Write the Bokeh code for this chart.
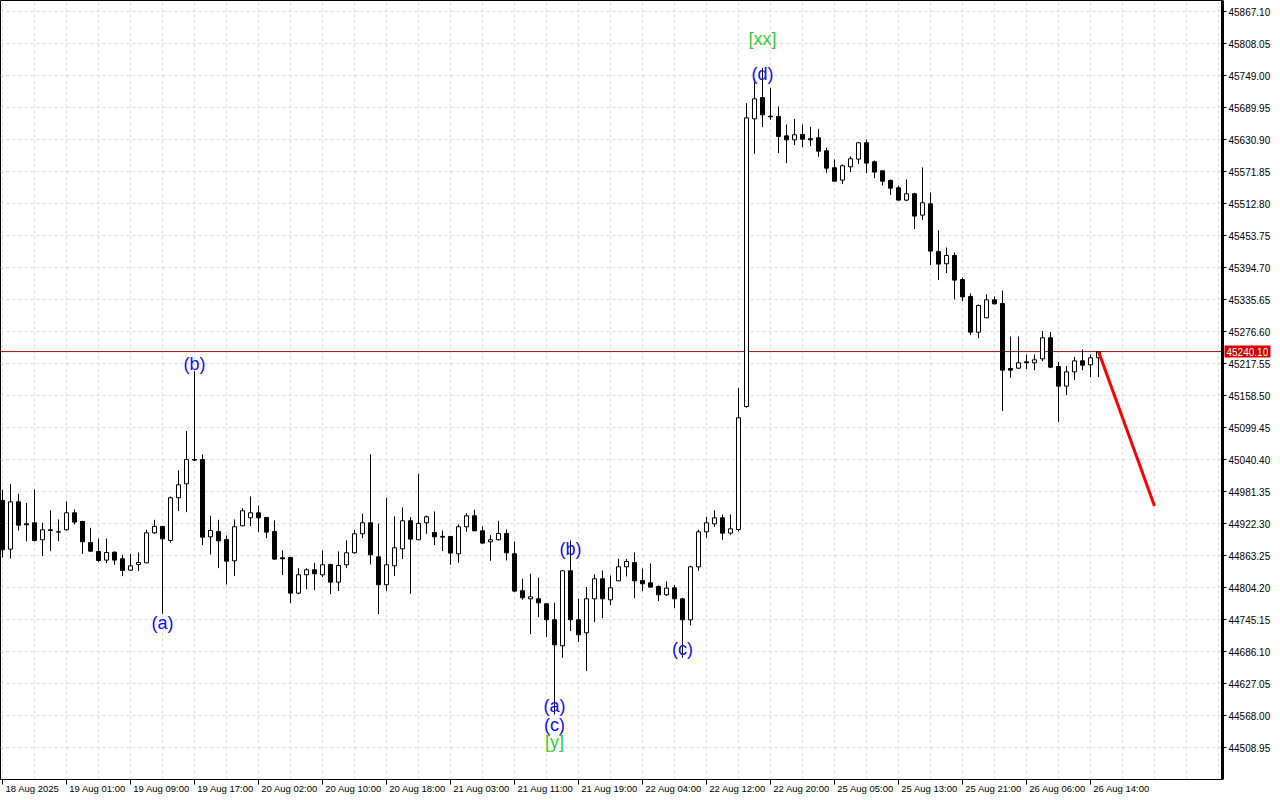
from bokeh.plotting import figure
from bokeh.models import FixedTicker, Range1d, ColumnDataSource, Span, PrintfTickFormatter
from bokeh.embed import file_html
from bokeh.resources import INLINE
from bokeh.core.properties import value

# ---------------- data (hourly candles, bar index 0..137) ----------------
opens = [44965.4, 44875.5, 44962.9, 44922.3, 44924.1, 44892.8, 44911.2, 44907.5, 44911.2, 44942.6,
         44926.6, 44887.8, 44871.2, 44855.3, 44870.0, 44857.7, 44836.8, 44847.3, 44850.3, 44905.7,
         44917.4, 44891.5, 44970.3, 44996.1, 45041.0, 45041.0, 44898.3, 44908.2, 44893.4, 44854.0,
         44918.6, 44933.4, 44942.6, 44934.0, 44908.2, 44859.6, 44860.2, 44794.4, 44828.2, 44837.4,
         44828.2, 44847.3, 44814.7, 44846.7, 44868.8, 44903.9, 44924.2, 44861.4, 44809.8, 44844.8,
         44876.2, 44927.9, 44892.8, 44924.2, 44906.3, 44899.0, 44899.0, 44867.0, 44916.8, 44937.1,
         44909.4, 44889.1, 44892.8, 44904.5, 44867.0, 44798.7, 44783.9, 44783.9, 44774.7, 44745.2,
         44697.2, 44835.6, 44745.2, 44721.2, 44783.9, 44820.8, 44782.0, 44817.1, 44842.9, 44850.9,
         44817.7, 44813.4, 44806.7, 44791.3, 44804.2, 44783.9, 44745.1, 44842.9, 44907.5, 44922.3,
         44933.4, 44905.1, 44911.8, 45138.8, 45669.6, 45709.0, 45674.5, 45673.9, 45638.2, 45630.8,
         45640.8, 45632.8, 45634.6, 45610.6, 45579.3, 45556.5, 45581.1, 45595.3, 45625.4, 45590.3,
         45573.7, 45555.9, 45542.3, 45519.6, 45531.3, 45491.9, 45512.8, 45424.9, 45402.1, 45417.5,
         45373.1, 45341.8, 45275.9, 45302.4, 45335.6, 45328.9, 45208.9, 45209.5, 45221.2, 45219.4,
         45226.7, 45265.5, 45212.6, 45176.3, 45202.7, 45223.0, 45215.7, 45228.6]
highs = [44985.0, 44996.1, 44977.7, 44961.0, 44985.6, 44924.1, 44946.9, 44930.3, 44963.5, 44948.7,
         44927.8, 44914.9, 44895.2, 44895.2, 44871.2, 44865.1, 44866.9, 44869.4, 44911.2, 44929.7,
         44918.0, 44972.7, 45020.7, 45093.3, 45204.0, 45050.2, 44937.1, 44929.7, 44900.8, 44930.3,
         44951.2, 44972.8, 44956.2, 44934.6, 44928.5, 44873.1, 44860.8, 44840.5, 44840.5, 44850.3,
         44873.1, 44848.5, 44871.3, 44891.6, 44911.3, 44940.8, 45050.3, 44922.9, 44970.3, 44935.9,
         44952.5, 44934.6, 45014.6, 44937.7, 44945.1, 44910.0, 44899.6, 44921.1, 44942.0, 44948.2,
         44917.4, 44901.4, 44927.9, 44911.9, 44889.7, 44820.8, 44830.1, 44822.7, 44775.3, 44776.5,
         44836.2, 44891.6, 44783.9, 44805.5, 44828.8, 44836.2, 44827.0, 44857.7, 44857.7, 44869.4,
         44839.9, 44849.1, 44808.5, 44815.9, 44809.7, 44785.7, 44844.8, 44911.2, 44935.2, 44946.9,
         44939.5, 44939.5, 45173.2, 45698.5, 45743.4, 45763.7, 45726.8, 45692.4, 45659.1, 45669.6,
         45659.2, 45654.9, 45651.2, 45616.2, 45594.6, 45585.4, 45600.2, 45626.0, 45631.5, 45592.8,
         45574.3, 45557.7, 45546.0, 45557.7, 45533.1, 45579.9, 45533.7, 45463.6, 45432.2, 45423.0,
         45376.8, 45347.3, 45327.0, 45345.5, 45341.8, 45352.8, 45267.9, 45267.9, 45234.7, 45234.7,
         45277.8, 45275.9, 45221.2, 45213.8, 45230.4, 45243.9, 45234.7, 45240.3]
lows = [44860.0, 44858.3, 44910.0, 44889.7, 44889.7, 44862.6, 44871.8, 44890.3, 44910.0, 44921.1,
        44866.9, 44870.6, 44851.6, 44849.7, 44846.6, 44825.7, 44835.0, 44835.0, 44849.7, 44903.8,
        44756.2, 44887.2, 44945.7, 44943.8, 45038.0, 44882.9, 44865.7, 44840.5, 44810.4, 44825.8,
        44918.0, 44918.0, 44906.9, 44895.9, 44855.9, 44827.6, 44775.9, 44792.5, 44801.8, 44799.9,
        44823.9, 44792.5, 44798.1, 44840.5, 44867.0, 44895.9, 44847.3, 44755.6, 44798.1, 44825.8,
        44857.1, 44793.2, 44892.8, 44903.9, 44883.0, 44871.9, 44846.7, 44850.4, 44907.6, 44908.8,
        44885.4, 44854.1, 44891.6, 44854.7, 44796.2, 44782.1, 44718.7, 44750.1, 44713.2, 44570.5,
        44675.1, 44724.3, 44704.0, 44650.5, 44740.9, 44748.3, 44772.2, 44817.1, 44825.1, 44785.1,
        44798.0, 44805.4, 44779.6, 44789.4, 44766.7, 44675.0, 44734.7, 44835.6, 44896.5, 44916.8,
        44892.8, 44902.0, 44908.1, 45136.3, 45605.0, 45654.2, 45667.8, 45606.2, 45587.8, 45621.0,
        45617.4, 45619.2, 45599.5, 45569.4, 45554.0, 45549.1, 45571.3, 45586.0, 45569.4, 45560.2,
        45546.6, 45528.8, 45519.0, 45517.7, 45466.1, 45482.7, 45399.6, 45372.0, 45384.9, 45336.3,
        45333.1, 45270.4, 45264.9, 45302.4, 45327.6, 45130.2, 45191.7, 45207.7, 45207.7, 45205.8,
        45222.4, 45209.5, 45109.9, 45159.7, 45187.4, 45205.8, 45192.9, 45192.9]
closes = [44874.3, 44962.9, 44919.8, 44920.4, 44891.5, 44911.2, 44910.0, 44907.0, 44942.6, 44925.4,
          44889.1, 44871.8, 44854.6, 44869.4, 44855.3, 44836.2, 44844.8, 44850.9, 44905.7, 44917.4,
          44894.6, 44970.3, 44994.3, 45041.0, 45039.8, 44897.7, 44910.0, 44890.9, 44853.4, 44916.8,
          44946.3, 44942.6, 44933.4, 44906.9, 44857.1, 44857.7, 44794.4, 44828.2, 44837.4, 44830.1,
          44846.7, 44814.7, 44845.4, 44868.8, 44903.9, 44924.2, 44865.1, 44809.8, 44846.7, 44878.0,
          44927.9, 44894.0, 44923.0, 44935.2, 44898.3, 44897.7, 44868.2, 44916.8, 44937.1, 44909.4,
          44886.7, 44892.8, 44904.5, 44868.8, 44798.1, 44785.8, 44787.6, 44776.5, 44745.2, 44699.0,
          44835.6, 44745.2, 44717.5, 44783.9, 44820.8, 44783.9, 44804.2, 44842.9, 44852.8, 44817.1,
          44811.6, 44805.4, 44791.3, 44803.6, 44783.9, 44745.1, 44842.9, 44907.5, 44924.1, 44933.4,
          44905.1, 44913.1, 45117.9, 45671.4, 45706.5, 45677.0, 45673.3, 45637.0, 45630.8, 45640.1,
          45632.1, 45630.9, 45610.0, 45578.6, 45554.6, 45583.0, 45595.9, 45625.4, 45587.9, 45571.3,
          45554.6, 45541.7, 45519.6, 45531.3, 45490.1, 45514.7, 45425.5, 45401.5, 45417.5, 45372.0,
          45341.1, 45275.9, 45325.2, 45335.6, 45328.2, 45205.8, 45205.8, 45219.4, 45219.4, 45224.9,
          45265.5, 45211.4, 45176.3, 45202.7, 45223.0, 45215.0, 45228.6, 45240.1]

y_ticks = [44508.95, 44568.00, 44627.05, 44686.10, 44745.15, 44804.20, 44863.25, 44922.30,
           44981.35, 45040.40, 45099.45, 45158.50, 45217.55, 45276.60, 45335.65, 45394.70,
           45453.75, 45512.80, 45571.85, 45630.90, 45689.95, 45749.00, 45808.05, 45867.10]

x_tick_bars = [0, 8, 16, 24, 32, 40, 48, 56, 64, 72, 80, 88, 96, 104, 112, 120, 128, 136]
x_tick_labels = ["18 Aug 2025", "19 Aug 01:00", "19 Aug 09:00", "19 Aug 17:00", "20 Aug 02:00",
                 "20 Aug 10:00", "20 Aug 18:00", "21 Aug 03:00", "21 Aug 11:00", "21 Aug 19:00",
                 "22 Aug 04:00", "22 Aug 12:00", "22 Aug 20:00", "25 Aug 05:00", "25 Aug 13:00",
                 "25 Aug 21:00", "26 Aug 06:00", "26 Aug 14:00"]

last_price = 45240.10
forecast_bars = [137, 144]
forecast_prices = [45240.10, 44955.0]

wave_bars = [20, 24, 69, 69, 69, 71, 85, 95, 95]
wave_prices = [44738.4, 45218.1, 44586.1, 44551.0, 44518.8, 44875.0, 44690.4, 45751.5, 45816.6]
wave_texts = ["(a)", "(b)", "(a)", "(c)", "[y]", "(b)", "(c)", "(d)", "[xx]"]
wave_colors = ["#1010ff", "#1010ff", "#1010ff", "#1010ff", "#33cc33", "#1010ff", "#1010ff", "#1010ff", "#33cc33"]

# ---------------- figure ----------------
FRAME_W, FRAME_H = 1222, 779
PX_PER_BAR = 8.0
PRICE_PER_PX = 1.84531
x_start = -0.25
x_end = x_start + FRAME_W / PX_PER_BAR
y_top = 45887.95
p = figure(frame_width=FRAME_W, frame_height=FRAME_H, output_backend="svg", toolbar_location=None,
           x_range=Range1d(x_start, x_end),
           y_range=Range1d(y_top - PRICE_PER_PX * FRAME_H, y_top),
           y_axis_location="right",
           min_border_left=0, min_border_top=0, min_border_right=0, min_border_bottom=0)
p.title.visible = False
p.background_fill_color = "white"
p.border_fill_color = "white"
p.outline_line_color = "black"
p.outline_line_width = 1

FONT = "Liberation Sans"

# y axis (right)
p.yaxis.ticker = FixedTicker(ticks=y_ticks)
p.yaxis.formatter = PrintfTickFormatter(format="%.2f")
p.yaxis.major_label_text_font = FONT
p.yaxis.major_label_text_font_size = "10px"
p.yaxis.major_label_text_color = "black"
p.yaxis.major_tick_out = 4
p.yaxis.major_tick_in = 0
p.yaxis.minor_tick_line_color = None
p.yaxis.major_label_standoff = 2
p.yaxis.axis_line_width = 3
p.yaxis.axis_line_color = "black"

# x axis: labels left-aligned at bar ticks -> centre label at bar + half its width
XFS = 9.5
cw = {d: 0.556 for d in "0123456789"}
cw.update({" ": 0.278, ":": 0.278, "A": 0.667, "u": 0.556, "g": 0.556})
shifted = []
for b, lab in zip(x_tick_bars, x_tick_labels):
    w = sum(cw.get(ch, 0.556) for ch in lab) * XFS
    off_px = round(3 + w / 2.0)
    shifted.append(b + off_px / PX_PER_BAR)
p.xaxis.ticker = FixedTicker(ticks=shifted, minor_ticks=x_tick_bars)
p.xaxis.major_label_overrides = {s: lab for s, lab in zip(shifted, x_tick_labels)}
p.xaxis.major_tick_out = 0
p.xaxis.major_tick_in = 0
p.xaxis.minor_tick_out = 5
p.xaxis.minor_tick_in = 0
p.xaxis.minor_tick_line_color = "black"
p.xaxis.major_label_text_font = FONT
p.xaxis.major_label_text_font_size = f"{XFS}px"
p.xaxis.major_label_text_color = "black"
p.xaxis.major_label_standoff = -2
p.xaxis.axis_line_color = "black"

# grids
p.xgrid.ticker = FixedTicker(ticks=list(range(0, 153, 4)))
for g in (p.xgrid, p.ygrid):
    g.grid_line_color = "#dcdcdc"
    g.grid_line_dash = "3 3"
    g.grid_line_width = 1

# current price line
p.add_layout(Span(location=last_price, dimension="width", line_color="#a01010", line_width=1, level="underlay"))

# candles
xs = list(range(len(opens)))
tops = [max(o, c) for o, c in zip(opens, closes)]
bots = [min(o, c) for o, c in zip(opens, closes)]
fills = ["white" if c > o else "black" for o, c in zip(opens, closes)]
src = ColumnDataSource(dict(x=xs, high=highs, low=lows, top=tops, bottom=bots, fill=fills))
p.segment(x0="x", y0="high", x1="x", y1="low", source=src, line_color="black", line_width=1)
p.vbar(x="x", top="top", bottom="bottom", width=0.5, source=src,
       fill_color="fill", line_color="black", line_width=1)

# forecast arrow line
p.line(forecast_bars, forecast_prices, line_color="#ff0000", line_width=3)

# wave labels
wsrc = ColumnDataSource(dict(x=wave_bars, y=wave_prices, t=wave_texts, c=wave_colors))
p.text(x="x", y="y", text="t", text_color="c", source=wsrc, text_align="center",
       text_baseline="middle", text_font=value(FONT), text_font_size="18px")

# price tag on the price axis (overlay level glyphs are not clipped to the frame)
tag_w_px, tag_h_px = 46, 12
tag_x = x_end + (2 + tag_w_px / 2) / PX_PER_BAR
p.rect(x=[tag_x], y=[last_price], width=tag_w_px, height=tag_h_px,
       width_units="screen", height_units="screen",
       fill_color="#d40000", line_color=None, level="overlay")
p.text(x=[x_end + 4 / PX_PER_BAR], y=[last_price], text=[f"{last_price:.2f}"],
       text_color="white", text_font=value(FONT), text_font_size="10px",
       text_align="left", text_baseline="middle", level="overlay")

open("out.html", "w").write(file_html(p, INLINE))
